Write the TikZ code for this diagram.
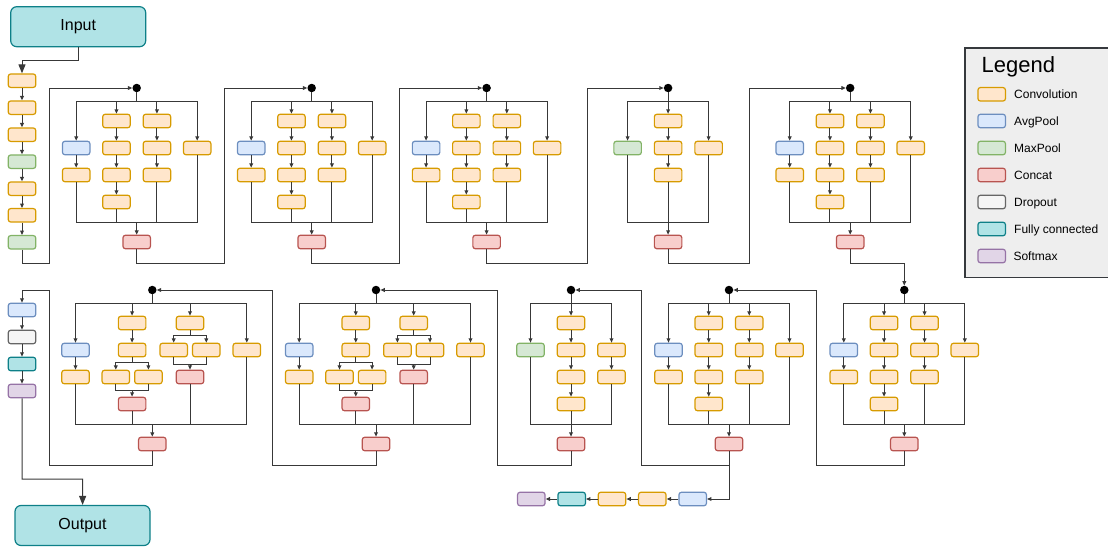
\documentclass[tikz,border=0pt]{standalone}
\usepackage{fontspec}
\setmainfont{Liberation Sans}
\usetikzlibrary{arrows.meta}

\definecolor{convF}{HTML}{FFE6CC}\definecolor{convD}{HTML}{D79B00}
\definecolor{avgF}{HTML}{DAE8FC}\definecolor{avgD}{HTML}{6C8EBF}
\definecolor{maxF}{HTML}{D5E8D4}\definecolor{maxD}{HTML}{82B366}
\definecolor{catF}{HTML}{F8CECC}\definecolor{catD}{HTML}{B85450}
\definecolor{dropF}{HTML}{F5F5F5}\definecolor{dropD}{HTML}{666666}
\definecolor{fcF}{HTML}{B0E3E6}\definecolor{fcD}{HTML}{0E8088}
\definecolor{smaxF}{HTML}{E1D5E7}\definecolor{smaxD}{HTML}{9673A6}
\definecolor{legF}{HTML}{EEEEEE}\definecolor{legD}{HTML}{36393D}
\definecolor{wirec}{HTML}{383838}

\tikzset{
  blk/.style={rectangle, rounded corners=2.5pt, minimum width=27.5pt, minimum height=13.5pt, inner sep=0pt, line width=1.2pt},
  conv/.style={blk, fill=convF, draw=convD},
  avgp/.style={blk, fill=avgF, draw=avgD},
  maxp/.style={blk, fill=maxF, draw=maxD},
  cat/.style={blk, fill=catF, draw=catD},
  drop/.style={blk, fill=dropF, draw=dropD},
  fcl/.style={blk, fill=fcF, draw=fcD},
  smax/.style={blk, fill=smaxF, draw=smaxD},
  io/.style={rectangle, rounded corners=6pt, minimum width=135pt, minimum height=40pt, inner sep=0pt,
    fill=fcF, draw=fcD, line width=1.2pt, font=\fontsize{16}{19}\selectfont},
  junction/.style={circle, fill=black, minimum size=8.5pt, inner sep=0pt},
  wire/.style={draw=wirec, line width=1pt},
  arr/.style={wire, -{Triangle[width=3.8pt,length=4.4pt]}},
  bigarr/.style={wire, -{Triangle[width=7pt,length=9pt]}},
  legendbox/.style={rectangle, fill=legF, draw=legD, line width=1.3pt, inner sep=0pt},
  leglabel/.style={anchor=base west, inner sep=0pt, font=\fontsize{12}{14}\selectfont},
}

% Four-branch module: pool+conv | 4 convs | 3 convs | 1 conv
\newcommand{\InceptionA}[3]{%
  \node[junction] (#1d) at (#2,#3) {};
  \coordinate (#1s1) at ({#2-60.5},{#3+13});
  \coordinate (#1s4) at ({#2+60.5},{#3+13});
  \coordinate (#1t1) at ({#2-60.5},{#3+134});
  \coordinate (#1t4) at ({#2+60.5},{#3+134});
  \node[avgp] (#1a2) at ({#2-60.5},{#3+60}) {};
  \node[conv] (#1a3) at ({#2-60.5},{#3+87}) {};
  \node[conv] (#1b1) at ({#2-20.25},{#3+33}) {};
  \node[conv] (#1b2) at ({#2-20.25},{#3+60}) {};
  \node[conv] (#1b3) at ({#2-20.25},{#3+87}) {};
  \node[conv] (#1b4) at ({#2-20.25},{#3+114}) {};
  \node[conv] (#1c1) at ({#2+20.25},{#3+33}) {};
  \node[conv] (#1c2) at ({#2+20.25},{#3+60}) {};
  \node[conv] (#1c3) at ({#2+20.25},{#3+87}) {};
  \node[conv] (#1e2) at ({#2+60.5},{#3+60}) {};
  \node[cat] (#1k) at (#2,{#3+154}) {};
  \draw[wire] (#1d) -- (#1d |- #1s1);
  \draw[wire] (#1s1) -- (#1s4);
  \draw[arr] (#1s1) -- (#1a2);
  \draw[arr] (#1b1 |- #1s1) -- (#1b1);
  \draw[arr] (#1c1 |- #1s1) -- (#1c1);
  \draw[arr] (#1s4) -- (#1e2);
  \draw[arr] (#1a2) -- (#1a3);
  \draw[arr] (#1b1) -- (#1b2);
  \draw[arr] (#1b2) -- (#1b3);
  \draw[arr] (#1b3) -- (#1b4);
  \draw[arr] (#1c1) -- (#1c2);
  \draw[arr] (#1c2) -- (#1c3);
  \draw[wire] (#1a3) -- (#1t1) -- (#1t4) -- (#1e2);
  \draw[wire] (#1b4) -- (#1b4 |- #1t1);
  \draw[wire] (#1c3) -- (#1c3 |- #1t1);
  \draw[arr] (#1k |- #1t1) -- (#1k);
}

% Three-branch reduction module: maxpool | 3 convs | 1 conv
\newcommand{\InceptionB}[3]{%
  \node[junction] (#1d) at (#2,#3) {};
  \coordinate (#1s1) at ({#2-40.5},{#3+13});
  \coordinate (#1s3) at ({#2+40.5},{#3+13});
  \coordinate (#1t1) at ({#2-40.5},{#3+134});
  \coordinate (#1t3) at ({#2+40.5},{#3+134});
  \node[maxp] (#1a2) at ({#2-40.5},{#3+60}) {};
  \node[conv] (#1b1) at (#2,{#3+33}) {};
  \node[conv] (#1b2) at (#2,{#3+60}) {};
  \node[conv] (#1b3) at (#2,{#3+87}) {};
  \node[conv] (#1e2) at ({#2+40.5},{#3+60}) {};
  \node[cat] (#1k) at (#2,{#3+154}) {};
  \draw[arr] (#1d) -- (#1b1);
  \draw[wire] (#1s1) -- (#1s3);
  \draw[arr] (#1s1) -- (#1a2);
  \draw[arr] (#1s3) -- (#1e2);
  \draw[arr] (#1b1) -- (#1b2);
  \draw[arr] (#1b2) -- (#1b3);
  \draw[arr] (#1b3) -- (#1k);
  \draw[wire] (#1a2) -- (#1t1) -- (#1t3) -- (#1e2);
}

% Three-branch reduction module: maxpool | 4 convs | 2 convs
\newcommand{\InceptionC}[3]{%
  \node[junction] (#1d) at (#2,#3) {};
  \coordinate (#1s1) at ({#2-40.5},{#3+13});
  \coordinate (#1s3) at ({#2+40.5},{#3+13});
  \coordinate (#1t1) at ({#2-40.5},{#3+134});
  \coordinate (#1t3) at ({#2+40.5},{#3+134});
  \node[maxp] (#1a2) at ({#2-40.5},{#3+60}) {};
  \node[conv] (#1b1) at (#2,{#3+33}) {};
  \node[conv] (#1b2) at (#2,{#3+60}) {};
  \node[conv] (#1b3) at (#2,{#3+87}) {};
  \node[conv] (#1b4) at (#2,{#3+114}) {};
  \node[conv] (#1e2) at ({#2+40.5},{#3+60}) {};
  \node[conv] (#1e3) at ({#2+40.5},{#3+87}) {};
  \node[cat] (#1k) at (#2,{#3+154}) {};
  \draw[arr] (#1d) -- (#1b1);
  \draw[wire] (#1s1) -- (#1s3);
  \draw[arr] (#1s1) -- (#1a2);
  \draw[arr] (#1s3) -- (#1e2);
  \draw[arr] (#1b1) -- (#1b2);
  \draw[arr] (#1b2) -- (#1b3);
  \draw[arr] (#1b3) -- (#1b4);
  \draw[arr] (#1e2) -- (#1e3);
  \draw[arr] (#1b4) -- (#1k);
  \draw[wire] (#1a2) -- (#1t1) -- (#1t3) -- (#1e3);
}

% Four-branch module with split 1x3 / 3x1 convolutions
\newcommand{\InceptionD}[3]{%
  \node[junction] (#1d) at (#2,#3) {};
  \coordinate (#1s1) at ({#2-76.8},{#3+13});
  \coordinate (#1s4) at ({#2+94.5},{#3+13});
  \coordinate (#1t1) at ({#2-76.8},{#3+134});
  \coordinate (#1t4) at ({#2+94.5},{#3+134});
  \node[avgp] (#1a2) at ({#2-76.8},{#3+60}) {};
  \node[conv] (#1a3) at ({#2-76.8},{#3+87}) {};
  \node[conv] (#1b1) at ({#2-20.2},{#3+33}) {};
  \node[conv] (#1b2) at ({#2-20.2},{#3+60}) {};
  \node[conv] (#1bl) at ({#2-36.5},{#3+87}) {};
  \node[conv] (#1br) at ({#2-3.9},{#3+87}) {};
  \node[cat] (#1b4) at ({#2-20.2},{#3+114}) {};
  \node[conv] (#1c1) at ({#2+37.7},{#3+33}) {};
  \node[conv] (#1cl) at ({#2+21.4},{#3+60}) {};
  \node[conv] (#1cr) at ({#2+54},{#3+60}) {};
  \node[cat] (#1c3) at ({#2+37.7},{#3+87}) {};
  \node[conv] (#1e2) at ({#2+94.5},{#3+60}) {};
  \node[cat] (#1k) at (#2,{#3+154}) {};
  \coordinate (#1bsl) at ({#2-36.5},{#3+72.3});
  \coordinate (#1bsr) at ({#2-3.9},{#3+72.3});
  \coordinate (#1bml) at ({#2-36.5},{#3+100.7});
  \coordinate (#1bmr) at ({#2-3.9},{#3+100.7});
  \coordinate (#1csl) at ({#2+21.4},{#3+45.3});
  \coordinate (#1csr) at ({#2+54},{#3+45.3});
  \coordinate (#1cml) at ({#2+21.4},{#3+74});
  \coordinate (#1cmr) at ({#2+54},{#3+74});
  \draw[wire] (#1d) -- (#1d |- #1s1);
  \draw[wire] (#1s1) -- (#1s4);
  \draw[arr] (#1s1) -- (#1a2);
  \draw[arr] (#1b1 |- #1s1) -- (#1b1);
  \draw[arr] (#1c1 |- #1s1) -- (#1c1);
  \draw[arr] (#1s4) -- (#1e2);
  \draw[arr] (#1a2) -- (#1a3);
  \draw[arr] (#1b1) -- (#1b2);
  \draw[wire] (#1b2) -- (#1b2 |- #1bsl);
  \draw[wire] (#1bsl) -- (#1bsr);
  \draw[arr] (#1bsl) -- (#1bl);
  \draw[arr] (#1bsr) -- (#1br);
  \draw[wire] (#1bl) -- (#1bml) -- (#1bmr) -- (#1br);
  \draw[arr] (#1b4 |- #1bml) -- (#1b4);
  \draw[wire] (#1c1) -- (#1c1 |- #1csl);
  \draw[wire] (#1csl) -- (#1csr);
  \draw[arr] (#1csl) -- (#1cl);
  \draw[arr] (#1csr) -- (#1cr);
  \draw[wire] (#1cl) -- (#1cml) -- (#1cmr) -- (#1cr);
  \draw[arr] (#1c3 |- #1cml) -- (#1c3);
  \draw[wire] (#1a3) -- (#1t1) -- (#1t4) -- (#1e2);
  \draw[wire] (#1b4) -- (#1b4 |- #1t1);
  \draw[wire] (#1c3) -- (#1c3 |- #1t1);
  \draw[arr] (#1k |- #1t1) -- (#1k);
}

\begin{document}
\begin{tikzpicture}[x=1pt,y=-1pt]
\useasboundingbox (0,0) rectangle (1108,546);
\clip (0,0) rectangle (1108,546);

% input / output
\node[io] (inp) at (78.2,26.7) {Input};
\node[io] (outp) at (82.5,525.5) {Output};

% stem
\node[conv] (L1) at (22,80.7) {};
\node[conv] (L2) at (22,107.7) {};
\node[conv] (L3) at (22,134.7) {};
\node[maxp] (L4) at (22,161.7) {};
\node[conv] (L5) at (22,188.7) {};
\node[conv] (L6) at (22,215.3) {};
\node[maxp] (L7) at (22,242.3) {};
\coordinate (i0) at (78.2,60);
\draw[bigarr] (inp) -- (i0) -| (L1);
\draw[arr] (L1) -- (L2);
\draw[arr] (L2) -- (L3);
\draw[arr] (L3) -- (L4);
\draw[arr] (L4) -- (L5);
\draw[arr] (L5) -- (L6);
\draw[arr] (L6) -- (L7);

% modules
\InceptionA{bA}{136.7}{88}
\InceptionA{bB}{311.7}{88}
\InceptionA{bC}{486.6}{88}
\InceptionB{bD}{668.1}{88}
\InceptionA{bE}{850.2}{88}
\InceptionA{bF}{904.3}{290}
\InceptionA{bG}{729}{290}
\InceptionC{bH}{571}{290}
\InceptionD{bI}{376}{290}
\InceptionD{bJ}{152.3}{290}

% head
\node[avgp] (M1) at (22,310) {};
\node[drop] (M2) at (22,337) {};
\node[fcl] (M3) at (22,364) {};
\node[smax] (M4) at (22,391) {};
\draw[arr] (M1) -- (M2);
\draw[arr] (M2) -- (M3);
\draw[arr] (M3) -- (M4);
\coordinate (o0) at (82.7,479);
\draw[bigarr] (M4) |- (o0) -- (outp);

% auxiliary classifier
\node[avgp] (X1) at (692.7,499) {};
\node[conv] (X2) at (652.3,499) {};
\node[conv] (X3) at (612,499) {};
\node[fcl] (X4) at (571.7,499) {};
\node[smax] (X5) at (531.3,499) {};
\draw[arr] (X1) -- (X2);
\draw[arr] (X2) -- (X3);
\draw[arr] (X3) -- (X4);
\draw[arr] (X4) -- (X5);

% links between modules
\coordinate (w0) at (49.3,263);
\draw[arr] (L7) |- (w0) |- (bAd);
\coordinate (w1) at (224,263);
\draw[arr] (bAk) |- (w1) |- (bBd);
\coordinate (w2) at (399.3,263);
\draw[arr] (bBk) |- (w2) |- (bCd);
\coordinate (w3) at (587.8,263);
\draw[arr] (bCk) |- (w3) |- (bDd);
\coordinate (w4) at (749.7,263);
\draw[arr] (bDk) |- (w4) |- (bEd);
\coordinate (w5) at (904.3,263);
\draw[arr] (bEk) |- (w5) -- (bFd);
\coordinate (w6) at (816.7,465);
\draw[arr] (bFk) |- (w6) |- (bGd);
\coordinate (w7) at (641.7,465);
\draw[arr] (bGk) |- (w7) |- (bHd);
\coordinate (j7) at (729,465);
\draw[arr] (j7) |- (X1);
\coordinate (w8) at (497.3,465);
\draw[arr] (bHk) |- (w8) |- (bId);
\coordinate (w9) at (272.7,465);
\draw[arr] (bIk) |- (w9) |- (bJd);
\coordinate (w10) at (49.3,465);
\coordinate (m0) at (22,290);
\draw[arr] (bJk) |- (w10) |- (m0) -- (M1);

% legend
\node[legendbox, anchor=north west, minimum width=150pt, minimum height=229.7pt] (lg) at (964.3,47.3) {};
\node[anchor=base, inner sep=0pt, font=\fontsize{22}{26}\selectfont] (lgt) at (1018.3,72.5) {Legend};
\node[conv] (g1) at (991.7,94.3) {};
\node[avgp] (g2) at (991.7,121) {};
\node[maxp] (g3) at (991.7,148) {};
\node[cat] (g4) at (991.7,175) {};
\node[drop] (g5) at (991.7,202) {};
\node[fcl] (g6) at (991.7,229) {};
\node[smax] (g7) at (991.7,256) {};
\node[leglabel] (t1) at (1014,98.5) {Convolution};
\node[leglabel] (t2) at (1014,125.2) {AvgPool};
\node[leglabel] (t3) at (1014,152.2) {MaxPool};
\node[leglabel] (t4) at (1014,179.2) {Concat};
\node[leglabel] (t5) at (1014,206.2) {Dropout};
\node[leglabel] (t6) at (1014,233.2) {Fully connected};
\node[leglabel] (t7) at (1013.3,260.2) {Softmax};
\end{tikzpicture}
\end{document}
